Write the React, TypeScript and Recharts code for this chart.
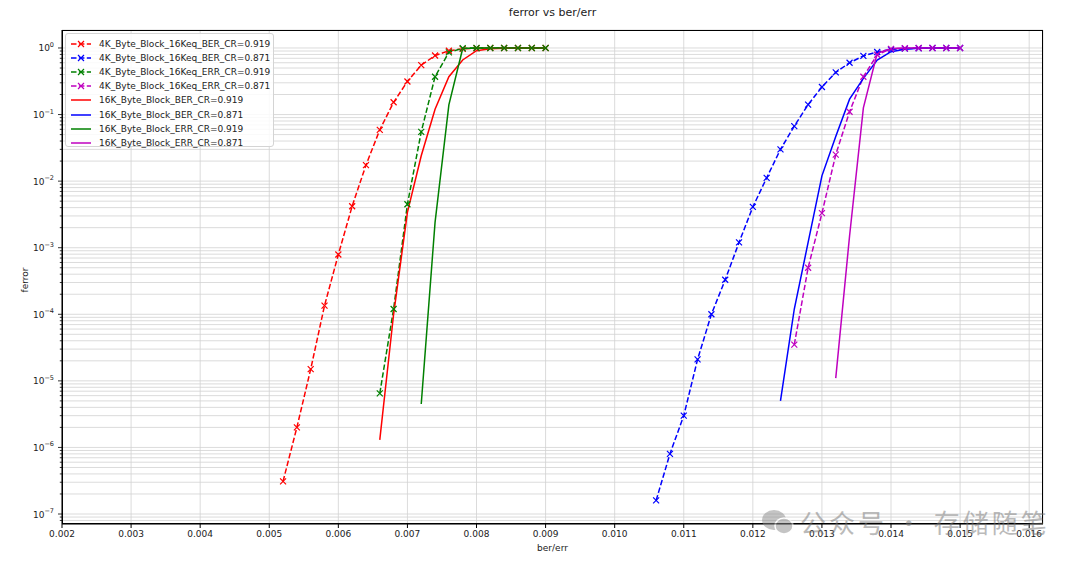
import React from 'react';
import { LineChart, Line, XAxis, YAxis, CartesianGrid } from 'recharts';

// axis ticks
const xTicks = [0.002, 0.003, 0.004, 0.005, 0.006, 0.007, 0.008, 0.009, 0.01, 0.011, 0.012, 0.013, 0.014, 0.015, 0.016];
const yExponents = [-8, -7, -6, -5, -4, -3, -2, -1, 0];
const yMinorSteps = [1, 2, 3, 4, 5, 6, 7, 8, 9];
const xDomain = [0.002, 0.0162];
const yDomain = [Math.pow(10, -7.15), Math.pow(10, 0.27)];

// 4K_Byte_Block_16Keq_BER_CR=0.919
const ber4k919X = [0.0052, 0.0054, 0.0056, 0.0058, 0.006, 0.0062, 0.0064, 0.0066, 0.0068, 0.007, 0.0072, 0.0074, 0.0076, 0.0078, 0.008, 0.0082, 0.0084, 0.0086, 0.0088, 0.009];
const ber4k919Y = [3.1e-7, 2.0e-6, 1.5e-5, 1.35e-4, 7.9e-4, 4.2e-3, 0.0174, 0.059, 0.153, 0.314, 0.552, 0.77, 0.91, 0.97, 0.99, 1, 1, 1, 1, 1];

// 4K_Byte_Block_16Keq_BER_CR=0.871
const ber4k871X = [0.0106, 0.0108, 0.011, 0.0112, 0.0114, 0.0116, 0.0118, 0.012, 0.0122, 0.0124, 0.0126, 0.0128, 0.013, 0.0132, 0.0134, 0.0136, 0.0138, 0.014, 0.0142, 0.0144, 0.0146, 0.0148, 0.015];
const ber4k871Y = [1.6e-7, 8.0e-7, 3.0e-6, 2.1e-5, 1.0e-4, 3.3e-4, 1.2e-3, 4.1e-3, 0.0112, 0.03, 0.067, 0.141, 0.259, 0.43, 0.6, 0.76, 0.87, 0.95, 0.98, 0.99, 1, 1, 1];

// 4K_Byte_Block_16Keq_ERR_CR=0.919
const err4k919X = [0.0066, 0.0068, 0.007, 0.0072, 0.0074, 0.0076, 0.0078, 0.008, 0.0082, 0.0084, 0.0086, 0.0088, 0.009];
const err4k919Y = [6.5e-6, 1.2e-4, 4.5e-3, 0.055, 0.37, 0.86, 0.99, 1, 1, 1, 1, 1, 1];

// 4K_Byte_Block_16Keq_ERR_CR=0.871
const err4k871X = [0.0126, 0.0128, 0.013, 0.0132, 0.0134, 0.0136, 0.0138, 0.014, 0.0142, 0.0144, 0.0146, 0.0148, 0.015];
const err4k871Y = [3.5e-5, 5.0e-4, 3.3e-3, 0.025, 0.11, 0.37, 0.79, 0.97, 0.99, 1, 1, 1, 1];

// 16K_Byte_Block_BER_CR=0.919
const ber16k919X = [0.0066, 0.0068, 0.007, 0.0072, 0.0074, 0.0076, 0.0078, 0.008, 0.0082, 0.0084, 0.0086, 0.0088, 0.009];
const ber16k919Y = [1.3e-6, 1.0e-4, 3.4e-3, 0.024, 0.12, 0.37, 0.66, 0.91, 0.97, 0.99, 1, 1, 1];

// 16K_Byte_Block_BER_CR=0.871
const ber16k871X = [0.0124, 0.0126, 0.0128, 0.013, 0.0132, 0.0134, 0.0136, 0.0138, 0.014, 0.0142, 0.0144, 0.0146, 0.0148, 0.015];
const ber16k871Y = [5.0e-6, 1.2e-4, 1.2e-3, 0.012, 0.047, 0.17, 0.35, 0.66, 0.88, 0.96, 0.99, 1, 1, 1];

// 16K_Byte_Block_ERR_CR=0.919
const err16k919X = [0.0072, 0.0074, 0.0076, 0.0078, 0.008, 0.0082, 0.0084, 0.0086, 0.0088, 0.009];
const err16k919Y = [4.5e-6, 2.4e-3, 0.14, 0.98, 1, 1, 1, 1, 1, 1];

// 16K_Byte_Block_ERR_CR=0.871
const err16k871X = [0.0132, 0.0134, 0.0136, 0.0138, 0.014, 0.0142, 0.0144, 0.0146, 0.0148, 0.015];
const err16k871Y = [1.1e-5, 1.5e-3, 0.126, 0.83, 0.98, 1, 1, 1, 1, 1];

const zip = (xs: number[], ys: number[]) => xs.map((x, i) => ({ x, y: ys[i] }));

const series = [
  { name: '4K_Byte_Block_16Keq_BER_CR=0.919', color: '#ff0000', dashed: true, data: zip(ber4k919X, ber4k919Y) },
  { name: '4K_Byte_Block_16Keq_BER_CR=0.871', color: '#0000ff', dashed: true, data: zip(ber4k871X, ber4k871Y) },
  { name: '4K_Byte_Block_16Keq_ERR_CR=0.919', color: '#008000', dashed: true, data: zip(err4k919X, err4k919Y) },
  { name: '4K_Byte_Block_16Keq_ERR_CR=0.871', color: '#bf00bf', dashed: true, data: zip(err4k871X, err4k871Y) },
  { name: '16K_Byte_Block_BER_CR=0.919', color: '#ff0000', dashed: false, data: zip(ber16k919X, ber16k919Y) },
  { name: '16K_Byte_Block_BER_CR=0.871', color: '#0000ff', dashed: false, data: zip(ber16k871X, ber16k871Y) },
  { name: '16K_Byte_Block_ERR_CR=0.919', color: '#008000', dashed: false, data: zip(err16k919X, err16k919Y) },
  { name: '16K_Byte_Block_ERR_CR=0.871', color: '#bf00bf', dashed: false, data: zip(err16k871X, err16k871Y) },
];

const yTicks = yExponents.flatMap((e) => yMinorSteps.map((m) => m * Math.pow(10, e)))
  .filter((v) => v >= yDomain[0] && v <= yDomain[1]);

const FONT = '"DejaVu Sans", sans-serif';
const DASH = '5.5 2.4';

const crossDot = (color: string) => (props: any) => {
  const { cx, cy, index } = props;
  if (cx == null || cy == null) return <g key={`e-${index}`} />;
  const s = 3;
  return (
    <path
      key={`m-${index}`}
      d={`M${cx - s},${cy - s}L${cx + s},${cy + s}M${cx - s},${cy + s}L${cx + s},${cy - s}`}
      stroke={color}
      strokeWidth={1.2}
      fill="none"
    />
  );
};

const YTick = (props: any) => {
  const { x, y, payload } = props;
  const e = Math.log10(payload.value);
  const major = Math.abs(e - Math.round(e)) < 1e-6;
  const right = x + 7;
  const exp = Math.round(e);
  return (
    <g>
      <line x1={right - (major ? 4 : 2.2)} x2={right} y1={y} y2={y} stroke="#000" strokeWidth={0.8} />
      {major && (
        <text x={x - 1} y={y + 3.5} textAnchor="end" fontSize={9} fontFamily={FONT} fill="#222">
          10<tspan dy={-4.5} fontSize={6.5}>{exp < 0 ? `\u2212${-exp}` : exp}</tspan>
        </text>
      )}
    </g>
  );
};

const Legend = () => (
  <div
    style={{
      position: 'absolute', left: 65, top: 33, width: 209, height: 114,
      background: 'rgba(255,255,255,0.85)', border: '1px solid #d4d4d4', borderRadius: 3,
      boxSizing: 'border-box', padding: '3px 0 0 4px', fontFamily: FONT, fontSize: 9, color: '#222',
    }}
  >
    {series.map((s) => (
      <div key={s.name} style={{ display: 'flex', alignItems: 'center', height: 14.1 }}>
        <svg width={22} height={10} style={{ marginRight: 7 }}>
          <line x1={1} x2={21} y1={5} y2={5} stroke={s.color} strokeWidth={1.5} strokeDasharray={s.dashed ? DASH : undefined} />
          {s.dashed && <path d="M8,2L14,8M8,8L14,2" stroke={s.color} strokeWidth={1.2} />}
        </svg>
        <span>{s.name}</span>
      </div>
    ))}
  </div>
);

export default function App() {
  return (
    <div style={{ position: 'absolute', left: 0, top: 0, width: 1080, height: 565, background: '#fff', overflow: 'hidden' }}>
      <LineChart width={1080} height={565} margin={{ top: 30, right: 37, bottom: 13, left: 10 }}>
        <CartesianGrid stroke="#d2d2d2" strokeWidth={0.8} />
        <XAxis
          type="number"
          dataKey="x"
          domain={xDomain}
          ticks={xTicks}
          allowDataOverflow
          height={28}
          tickSize={4}
          tickMargin={3}
          tickFormatter={(v: number) => v.toFixed(3)}
          tick={{ fontSize: 9, fontFamily: FONT, fill: '#222' }}
          stroke="#000"
        />
        <YAxis
          type="number"
          dataKey="y"
          scale="log"
          domain={yDomain}
          ticks={yTicks}
          allowDataOverflow
          width={52}
          tickLine={false}
          tickSize={4}
          tickMargin={3}
          tick={<YTick />}
          interval={0}
          stroke="#000"
        />
        {series.map((s) => (
          <Line
            key={s.name}
            data={s.data}
            dataKey="y"
            type="linear"
            stroke={s.color}
            strokeWidth={1.5}
            strokeDasharray={s.dashed ? DASH : undefined}
            dot={s.dashed ? crossDot(s.color) : false}
            activeDot={false}
            isAnimationActive={false}
          />
        ))}
      </LineChart>
      {/* frame, title, labels */}
      <div style={{ position: 'absolute', left: 62, top: 30, width: 981, height: 494, border: '1px solid #000', boxSizing: 'border-box', pointerEvents: 'none' }} />
      <div style={{ position: 'absolute', left: 62, width: 981, top: 6, textAlign: 'center', fontFamily: FONT, fontSize: 11, color: '#222' }}>ferror vs ber/err</div>
      <div style={{ position: 'absolute', left: 62, width: 981, top: 543, textAlign: 'center', fontFamily: FONT, fontSize: 9, color: '#222' }}>ber/err</div>
      <div style={{ position: 'absolute', left: 25, top: 280, transform: 'translate(-50%,-50%) rotate(-90deg)', fontFamily: FONT, fontSize: 9, color: '#222' }}>ferror</div>
      <Legend />
      {/* watermark */}
      <div style={{ position: 'absolute', left: 760, top: 503, display: 'flex', alignItems: 'center', opacity: 0.5, pointerEvents: 'none' }}>
        <svg width={34} height={30}>
          <ellipse cx={14} cy={13} rx={12} ry={10} fill="#8a8a8a" />
          <ellipse cx={24} cy={19} rx={9} ry={8} fill="#8a8a8a" stroke="#fff" strokeWidth={1.5} />
        </svg>
        <span style={{ fontFamily: '"Noto Sans CJK SC", sans-serif', fontSize: 26, color: '#777', marginLeft: 6, letterSpacing: 3 }}>公众号 · 存储随笔</span>
      </div>
    </div>
  );
}
